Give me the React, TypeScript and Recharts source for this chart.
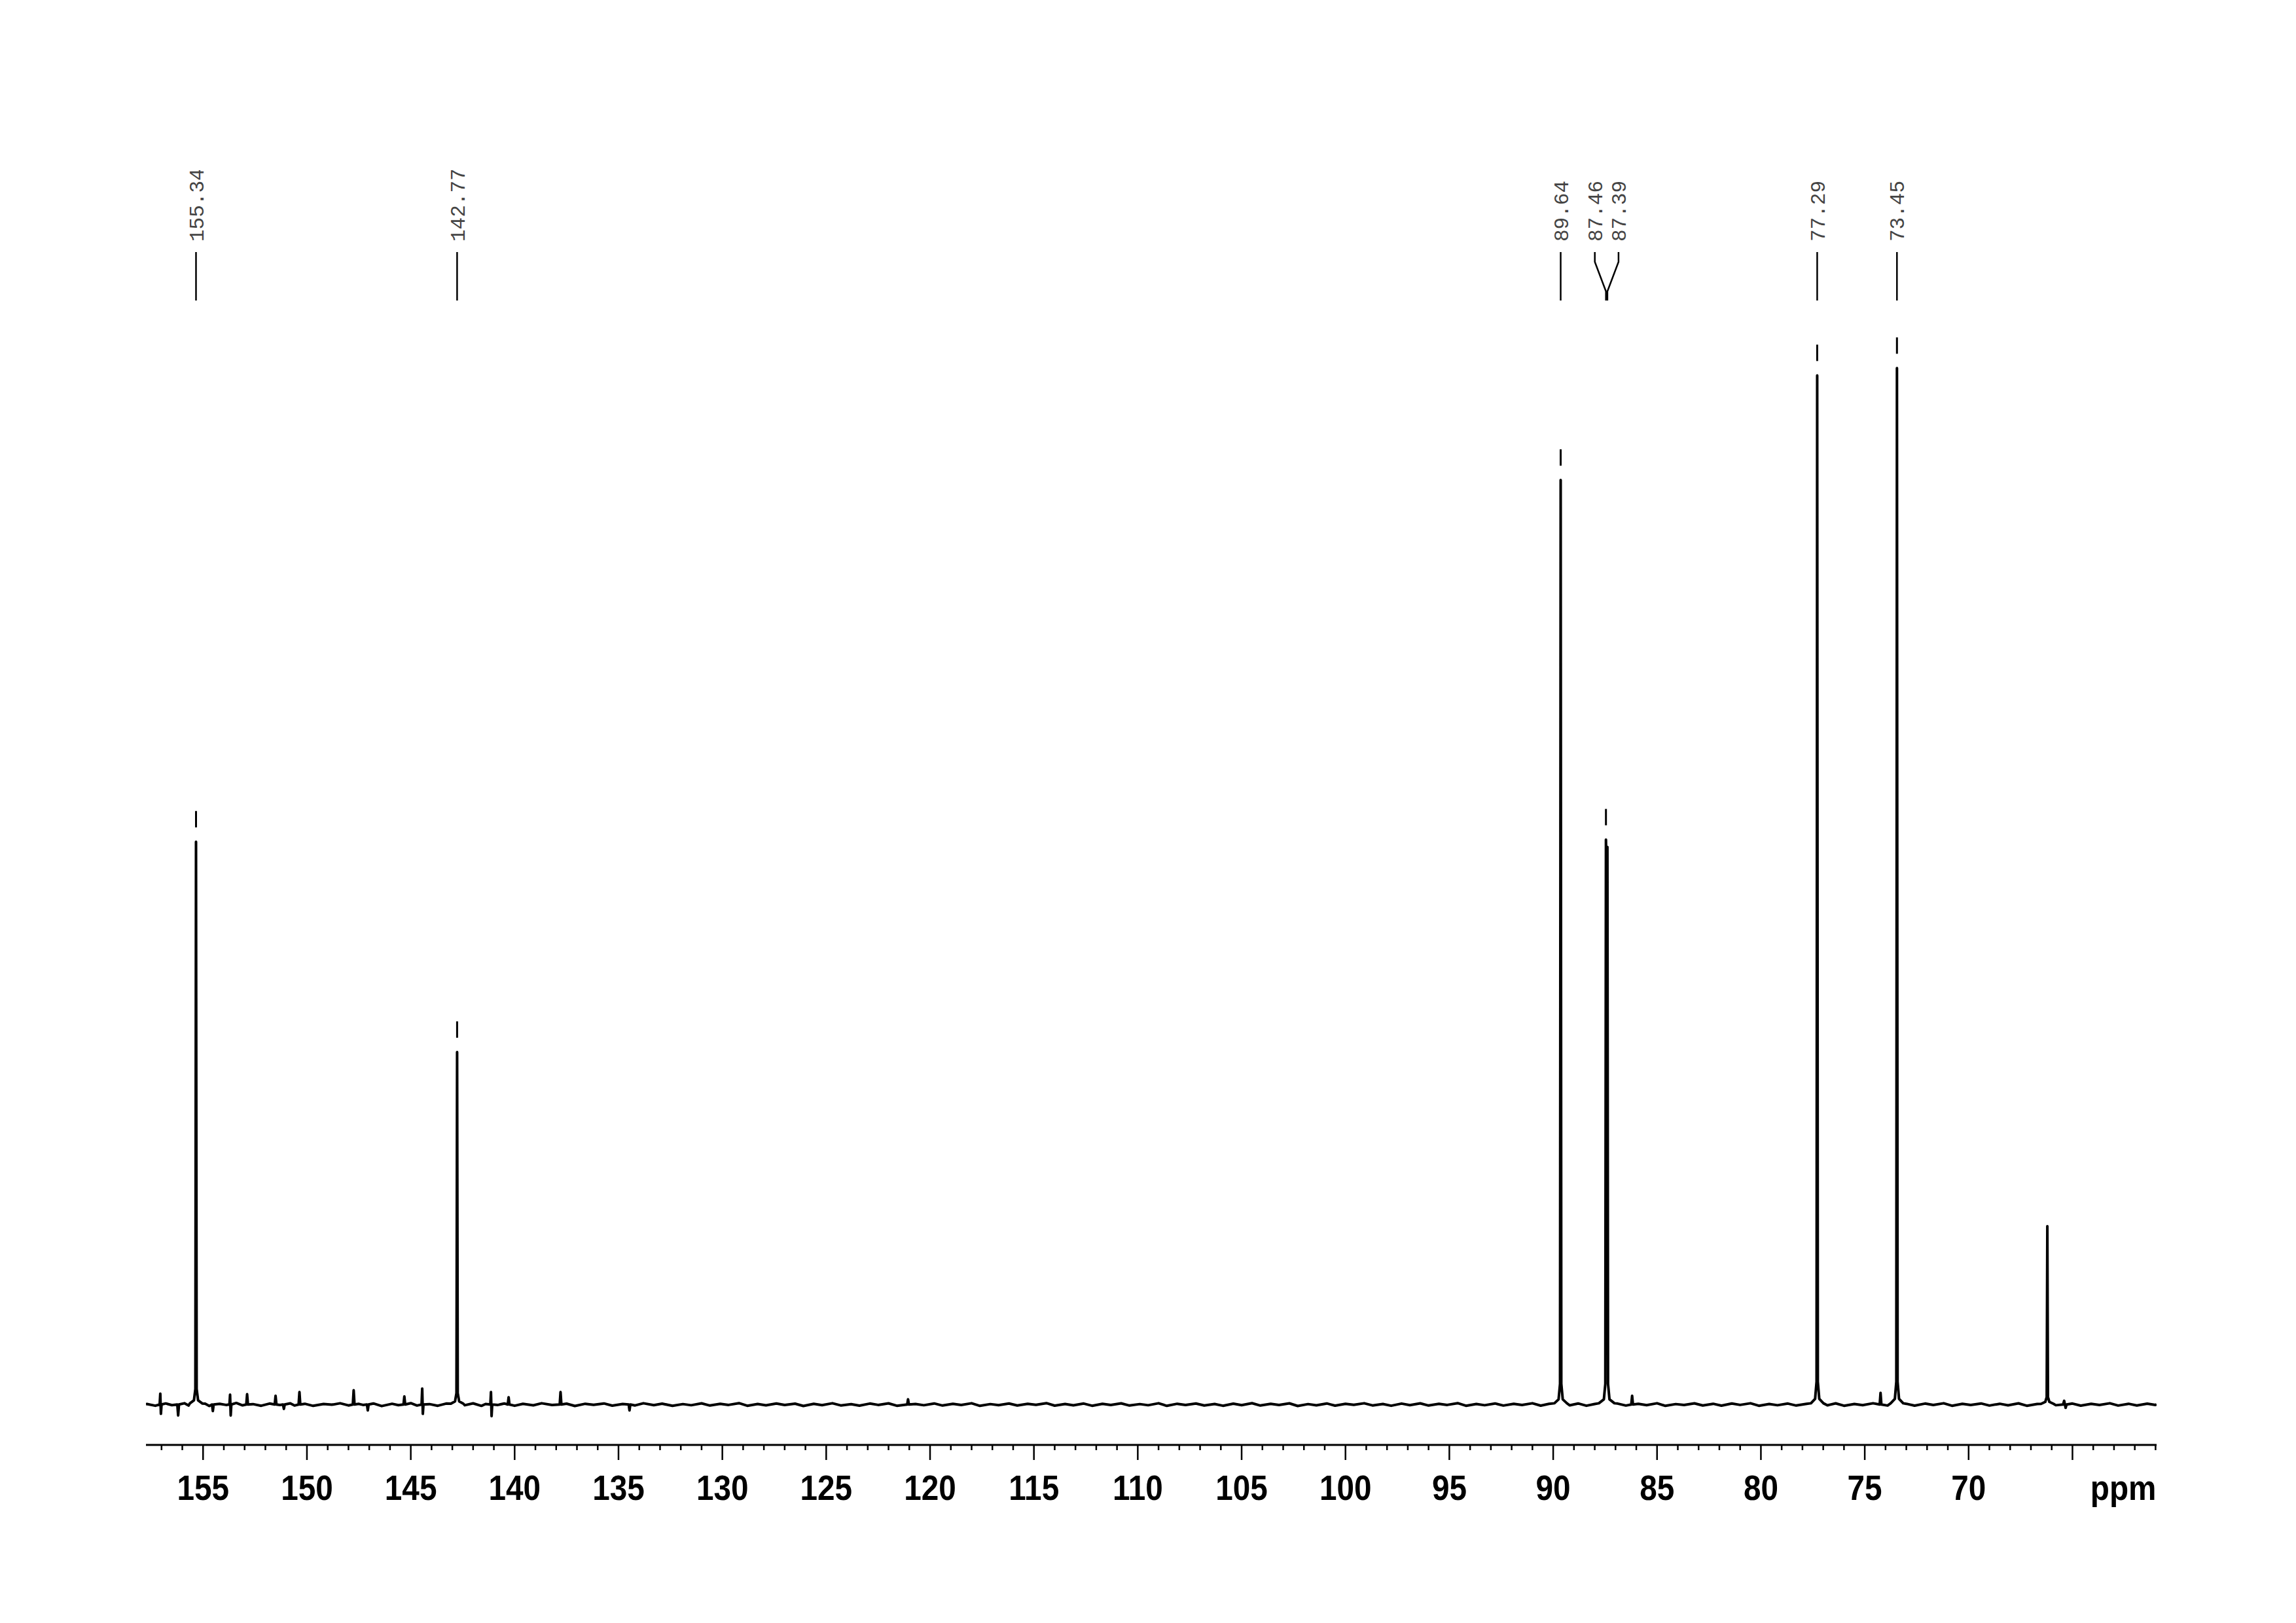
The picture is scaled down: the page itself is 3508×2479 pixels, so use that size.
import { ComposedChart, Line, Scatter, XAxis, YAxis } from 'recharts';

document.body.style.margin = '0';
document.body.style.overflow = 'hidden';

// 13C spectrum, [ppm, relative intensity] (73.45 peak = 100)
const noise: [number, number][] = [
  [157.75, 0.03], [157.7, 0.05], [157.3, -0.12], [156.8, 0.1], [156.5, -0.06], [155.9, 0.12], [155.7, -0.1],
  [154.9, 0.08], [154.7, -0.14], [154.2, 0.06], [153.9, -0.04], [153.4, 0.15], [153.1, -0.08], [152.6, 0.04],
  [152.2, -0.12], [151.8, 0.09], [151.3, -0.05], [150.8, 0.11], [150.6, -0.1], [150.1, 0.07], [149.7, -0.13],
  [149.2, 0.05], [148.8, -0.02], [148.4, 0.12], [148.0, -0.09], [147.5, 0.06], [147.3, -0.04], [146.8, 0.1],
  [146.4, -0.15], [145.9, 0.07], [145.6, -0.06], [145.0, 0.13], [144.7, -0.1], [144.1, 0.04], [143.7, -0.12],
  [143.3, 0.09], [142.4, -0.07], [142.0, 0.11], [141.6, -0.13], [141.4, 0.05], [140.8, -0.04], [140.5, 0.1],
  [140.0, -0.12], [139.6, 0.06], [139.1, -0.08], [138.7, 0.12], [138.2, -0.05], [137.5, 0.08], [137.1, -0.14],
  [136.6, 0.07], [136.2, -0.03], [135.7, 0.1], [135.3, -0.11], [134.8, 0.05], [134.2, -0.09], [133.8, 0.12],
  [133.3, -0.06], [132.9, 0.08], [132.4, -0.13], [131.9, 0.04], [131.5, -0.07], [131.0, 0.11], [130.6, -0.1],
  [130.1, 0.06], [129.7, -0.04], [129.2, 0.13], [128.8, -0.12], [128.3, 0.05], [127.9, -0.08], [127.4, 0.1],
  [127.0, -0.05], [126.5, 0.08], [126.1, -0.14], [125.6, 0.06], [125.2, -0.06], [124.7, 0.12], [124.3, -0.09],
  [123.8, 0.03], [123.4, -0.11], [122.9, 0.09], [122.5, -0.04], [122.0, 0.11], [121.6, -0.12], [120.7, 0.05],
  [120.3, -0.07], [119.8, 0.1], [119.4, -0.1], [118.9, 0.06], [118.5, -0.05], [118.0, 0.12], [117.6, -0.13],
  [117.1, 0.04], [116.7, -0.06], [116.2, 0.1], [115.8, -0.09], [115.3, 0.07], [114.9, -0.03], [114.4, 0.13],
  [114.0, -0.11], [113.5, 0.05], [113.1, -0.08], [112.6, 0.09], [112.2, -0.12], [111.7, 0.06], [111.3, -0.05],
  [110.8, 0.11], [110.4, -0.1], [109.9, 0.04], [109.5, -0.07], [109.0, 0.12], [108.6, -0.13], [108.1, 0.07],
  [107.7, -0.04], [107.2, 0.1], [106.8, -0.09], [106.3, 0.05], [105.9, -0.12], [105.4, 0.08], [105.0, -0.06],
  [104.5, 0.13], [104.1, -0.1], [103.6, 0.06], [103.2, -0.05], [102.7, 0.11], [102.3, -0.14], [101.8, 0.04],
  [101.4, -0.08], [100.9, 0.1], [100.5, -0.11], [100.0, 0.07], [99.6, -0.03], [99.1, 0.12], [98.7, -0.09],
  [98.2, 0.05], [97.8, -0.12], [97.3, 0.09], [96.9, -0.06], [96.4, 0.11], [96.0, -0.1], [95.5, 0.06],
  [95.1, -0.04], [94.6, 0.13], [94.2, -0.12], [93.7, 0.05], [93.3, -0.07], [92.8, 0.1], [92.4, -0.1],
  [91.9, 0.07], [91.5, -0.05], [91.0, 0.12], [90.6, -0.11], [90.2, 0.06], [89.2, -0.08], [88.8, 0.1],
  [88.4, -0.12], [88.0, 0.05], [86.9, 0.09], [86.5, -0.1], [85.9, 0.06], [85.5, -0.06], [85.0, 0.12],
  [84.6, -0.13], [84.1, 0.04], [83.7, -0.05], [83.2, 0.11], [82.8, -0.09], [82.3, 0.07], [81.9, -0.11],
  [81.4, 0.1], [81.0, -0.04], [80.5, 0.12], [80.1, -0.12], [79.6, 0.05], [79.2, -0.07], [78.7, 0.09],
  [78.3, -0.1], [77.8, 0.06], [76.8, -0.08], [76.4, 0.11], [76.0, -0.12], [75.5, 0.05], [75.1, -0.06],
  [74.6, 0.12], [73.9, -0.1], [73.0, 0.07], [72.6, -0.11], [72.1, 0.09], [71.7, -0.05], [71.2, 0.12],
  [70.8, -0.12], [70.3, 0.06], [69.9, -0.04], [69.4, 0.1], [69.0, -0.1], [68.5, 0.07], [68.1, -0.08],
  [67.6, 0.11], [67.2, -0.12], [66.7, 0.05], [65.8, -0.07], [65.0, 0.09], [64.6, -0.11], [64.1, 0.06],
  [63.7, -0.05], [63.2, 0.12], [62.8, -0.1], [62.3, 0.07], [61.9, -0.09], [61.4, 0.08], [61.0, -0.04],
  [60.95, 0.02],
];

const signals: [number, number][] = [
  [155.64, 0.1], [155.44, 0.4], [155.37, 1.5], [155.34, 54.3], [155.31, 1.5], [155.24, 0.4], [155.04, 0.1],
  [143.07, 0.08], [142.87, 0.3], [142.8, 1.1], [142.77, 34.0], [142.74, 1.1], [142.67, 0.3], [142.47, 0.08],
  [89.94, 0.12], [89.74, 0.5], [89.67, 2.0], [89.64, 89.2], [89.61, 2.0], [89.54, 0.5], [89.34, 0.12],
  [87.8, 0.12], [87.56, 0.5], [87.49, 2.0], [87.46, 54.5], [87.425, 50.5], [87.39, 53.8], [87.36, 2.0],
  [87.29, 0.5], [87.05, 0.12],
  [77.59, 0.12], [77.39, 0.55], [77.32, 2.2], [77.29, 99.3], [77.26, 2.2], [77.19, 0.55], [76.99, 0.12],
  [73.75, 0.12], [73.55, 0.55], [73.48, 2.2], [73.45, 100], [73.42, 2.2], [73.35, 0.55], [73.15, 0.12],
  [66.51, 0.06], [66.31, 0.25], [66.24, 0.7], [66.21, 17.2], [66.18, 0.7], [66.11, 0.25], [65.91, 0.06],
];

// small artefacts sitting on the baseline
const spikes: [number, number][] = [
  [157.09, 0], [157.06, 1.05], [157.03, -0.9], [157.0, 0],
  [156.24, 0], [156.2, -1.05], [156.16, 0],
  [154.57, 0], [154.53, -0.63], [154.49, 0],
  [153.73, 0], [153.7, 0.95], [153.67, -1.05], [153.64, 0],
  [152.92, 0], [152.88, 0.99], [152.84, 0],
  [151.55, 0], [151.51, 0.84], [151.47, 0],
  [151.15, 0], [151.11, -0.42], [151.07, 0],
  [150.4, 0], [150.36, 1.2], [150.32, 0],
  [147.79, 0], [147.75, 1.37], [147.71, 0],
  [147.11, 0], [147.07, -0.57], [147.03, 0],
  [145.35, 0], [145.31, 0.78], [145.27, 0],
  [144.48, 0], [144.45, 1.54], [144.42, -0.9], [144.39, 0],
  [141.17, 0], [141.14, 1.2], [141.11, -1.12], [141.08, 0],
  [140.33, 0], [140.29, 0.7], [140.25, 0],
  [137.83, 0], [137.79, 1.2], [137.75, 0],
  [134.51, 0], [134.47, -0.57], [134.43, 0],
  [121.1, 0], [121.06, 0.5], [121.02, 0],
  [86.24, 0], [86.2, 0.84], [86.16, 0],
  [74.28, 0], [74.24, 1.12], [74.2, 0],
  [65.45, 0], [65.4, 0.36], [65.33, -0.32], [65.28, 0],
];

const picks = [
  { label: '155.34', ppm: 155.34, height: 54.3 },
  { label: '142.77', ppm: 142.77, height: 34.0 },
  { label: '89.64', ppm: 89.64, height: 89.2 },
  { label: '87.46', ppm: 87.46, height: 54.5 },
  { label: '87.39', ppm: 87.39, height: 53.8 },
  { label: '77.29', ppm: 77.29, height: 99.3 },
  { label: '73.45', ppm: 73.45, height: 100 },
];

const tickLabels = [155, 150, 145, 140, 135, 130, 125, 120, 115, 110, 105, 100, 95, 90, 85, 80, 75, 70];
const unitLabel = 'ppm';

const spectrum = [...noise, ...signals, ...spikes]
  .sort((a, b) => b[0] - a[0])
  .map(([ppm, y]) => ({ ppm, y }));

// labels of close picks are fanned out and joined back to the peak
const pickData = picks.map((p) => {
  const group = picks.filter((q) => Math.abs(q.ppm - p.ppm) < 0.3);
  const idx = group.indexOf(p);
  return { ppm: p.ppm, y: p.height, label: p.label, slot: idx - (group.length - 1) / 2, first: idx === 0 };
});

const allTicks: number[] = [];
for (let v = 61; v <= 157; v++) allTicks.push(v);

const axisFont = '"Liberation Sans", Arial, Helvetica, sans-serif';

function AxisTick(props: any) {
  const { x, y, payload } = props;
  const v = payload.value;
  const major = v % 5 === 0;
  return (
    <g>
      <line x1={x} x2={x} y1={y} y2={y + (major ? 23 : 8)} stroke="#000" strokeWidth={2.5} />
      {tickLabels.includes(v) && (
        <text
          transform={`translate(${x},${y + 84}) scale(0.9,1)`}
          textAnchor="middle"
          fontFamily={axisFont}
          fontWeight="bold"
          fontSize={53}
          fill="#000"
        >
          {v}
        </text>
      )}
      {v === allTicks[0] && (
        <text
          transform={`translate(${x + 1},${y + 84}) scale(0.9,1)`}
          textAnchor="end"
          fontFamily={axisFont}
          fontWeight="bold"
          fontSize={53}
          fill="#000"
        >
          {unitLabel}
        </text>
      )}
    </g>
  );
}

function PickMark(props: any) {
  const { cx, cy, payload } = props;
  const lx = cx + payload.slot * 34;
  return (
    <g>
      {payload.first && (
        <line x1={cx} x2={cx} y1={cy - 47} y2={cy - 22} stroke="#000" strokeWidth={3} />
      )}
      <polyline
        points={`${lx},385 ${lx},400 ${cx},445 ${cx},459`}
        fill="none"
        stroke="#000"
        strokeWidth={2.5}
      />
      <text
        transform={`translate(${lx},369) rotate(-90)`}
        dy="0.36em"
        fontFamily='"Liberation Mono", "DejaVu Sans Mono", monospace'
        fontSize={31}
        fill="#444"
      >
        {payload.label}
      </text>
    </g>
  );
}

export default function App() {
  return (
    <div style={{ width: 3508, height: 2479, background: '#fff' }}>
      <ComposedChart
        width={3508}
        height={2479}
        data={spectrum}
        margin={{ top: 260, right: 213, bottom: 212, left: 223 }}
      >
        <XAxis
          type="number"
          dataKey="ppm"
          domain={[60.95, 157.75]}
          reversed
          allowDataOverflow
          ticks={allTicks}
          interval={0}
          tickSize={0}
          tickMargin={0}
          tickLine={false}
          height={60}
          axisLine={{ stroke: '#000', strokeWidth: 3 }}
          tick={AxisTick}
        />
        <YAxis type="number" dataKey="y" domain={[-3.9, 119.1]} allowDataOverflow hide />
        <Line
          type="linear"
          dataKey="y"
          stroke="#000"
          strokeWidth={4}
          strokeLinejoin="round"
          dot={false}
          isAnimationActive={false}
        />
        <Scatter data={pickData} shape={PickMark} isAnimationActive={false} />
      </ComposedChart>
    </div>
  );
}
